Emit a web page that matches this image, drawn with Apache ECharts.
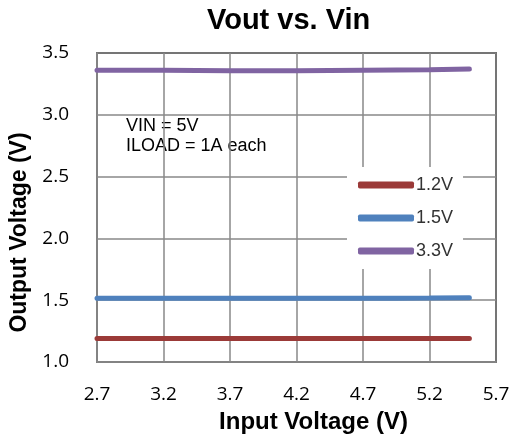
<!DOCTYPE html>
<html>
<head>
<meta charset="utf-8">
<script src="https://cdn.jsdelivr.net/npm/echarts@6/dist/echarts.min.js"></script>
<style>
  html, body { margin: 0; padding: 0; background: #fff; }
  #chart { width: 513px; height: 441px; }
</style>
</head>
<body>
<div id="chart"></div>
<script>
// values
const inputVoltage = [2.7, 3.2, 3.7, 4.2, 4.7, 5.2, 5.5]
const out12 = [1.19, 1.19, 1.19, 1.19, 1.19, 1.19, 1.19]
const out15 = [1.515, 1.515, 1.515, 1.515, 1.515, 1.517, 1.52]
const out33 = [3.36, 3.36, 3.357, 3.357, 3.36, 3.365, 3.37]
const seriesNames = ['1.2V', '1.5V', '3.3V']
const seriesColors = ['#9b3a38', '#4f81bd', '#8064a2']
const noteLines = ['VIN = 5V', 'ILOAD = 1A each']

const chart = echarts.init(document.getElementById('chart'))

function toPairs(values) {
  return inputVoltage.map((x, i) => [x, values[i]])
}

const gridStyle = { color: '#888888', width: 1.5 }

chart.setOption({
  backgroundColor: '#fff',
  animation: false,
  title: {
    text: 'Vout vs. Vin',
    left: 207,
    top: 6,
    padding: 0,
    textStyle: {
      fontFamily: 'Liberation Sans',
      fontWeight: 'bold',
      fontSize: 29,
      color: '#000'
    }
  },
  grid: {
    left: 96,
    right: 17,
    top: 53,
    bottom: 79,
    show: true,
    borderColor: '#000',
    borderWidth: 1.5
  },
  legend: {
    orient: 'vertical',
    left: 347,
    top: 167,
    padding: [8, 10, 8, 11],
    backgroundColor: '#fff',
    itemGap: 13,
    itemWidth: 56,
    itemHeight: 7,
    icon: 'roundRect',
    data: seriesNames,
    textStyle: {
      fontFamily: 'Liberation Sans',
      fontSize: 18,
      lineHeight: 20,
      color: '#333',
      padding: [0, 0, 0, -3]
    }
  },
  xAxis: {
    type: 'value',
    min: 2.7,
    max: 5.7,
    interval: 0.5,
    name: 'Input Voltage (V)',
    nameLocation: 'middle',
    nameGap: 48,
    nameTextStyle: {
      fontFamily: 'Liberation Sans',
      fontWeight: 'bold',
      fontSize: 24,
      color: '#000',
      padding: [0, 0, 0, 34]
    },
    axisLine: { lineStyle: gridStyle },
    axisTick: { show: false },
    splitLine: { lineStyle: gridStyle },
    axisLabel: {
      margin: 23,
      fontFamily: 'Open Sans',
      fontSize: 19,
      color: '#000',
      formatter: (v) => v.toFixed(1)
    }
  },
  yAxis: {
    type: 'value',
    min: 1,
    max: 3.5,
    interval: 0.5,
    name: 'Output Voltage (V)',
    nameLocation: 'middle',
    nameGap: 66,
    nameTextStyle: {
      fontFamily: 'Liberation Sans',
      fontWeight: 'bold',
      fontSize: 23,
      color: '#000',
      padding: [0, 50, 0, 0]
    },
    axisLine: { show: true, lineStyle: gridStyle },
    axisTick: { show: false },
    splitLine: { lineStyle: gridStyle },
    axisLabel: {
      margin: 28,
      fontFamily: 'Open Sans',
      fontSize: 19,
      color: '#000',
      formatter: (v) => v.toFixed(1)
    }
  },
  graphic: [
    {
      type: 'group',
      left: 107,
      top: 100,
      z: 50,
      children: [
        {
          type: 'rect',
          shape: { x: 0, y: 0, width: 198, height: 65 },
          style: { fill: '#fff' }
        },
        {
          type: 'text',
          x: 19,
          y: 16,
          style: {
            text: noteLines.join('\n'),
            fontFamily: 'Liberation Sans',
            fontSize: 18,
            lineHeight: 20,
            fill: '#000'
          }
        }
      ]
    }
  ],
  series: [out12, out15, out33].map((values, i) => ({
    name: seriesNames[i],
    type: 'line',
    smooth: true,
    showSymbol: false,
    symbol: 'none',
    z: 60,
    color: seriesColors[i],
    lineStyle: { width: 5, color: seriesColors[i], cap: 'round' },
    data: toPairs(values)
  }))
})
</script>
</body>
</html>
